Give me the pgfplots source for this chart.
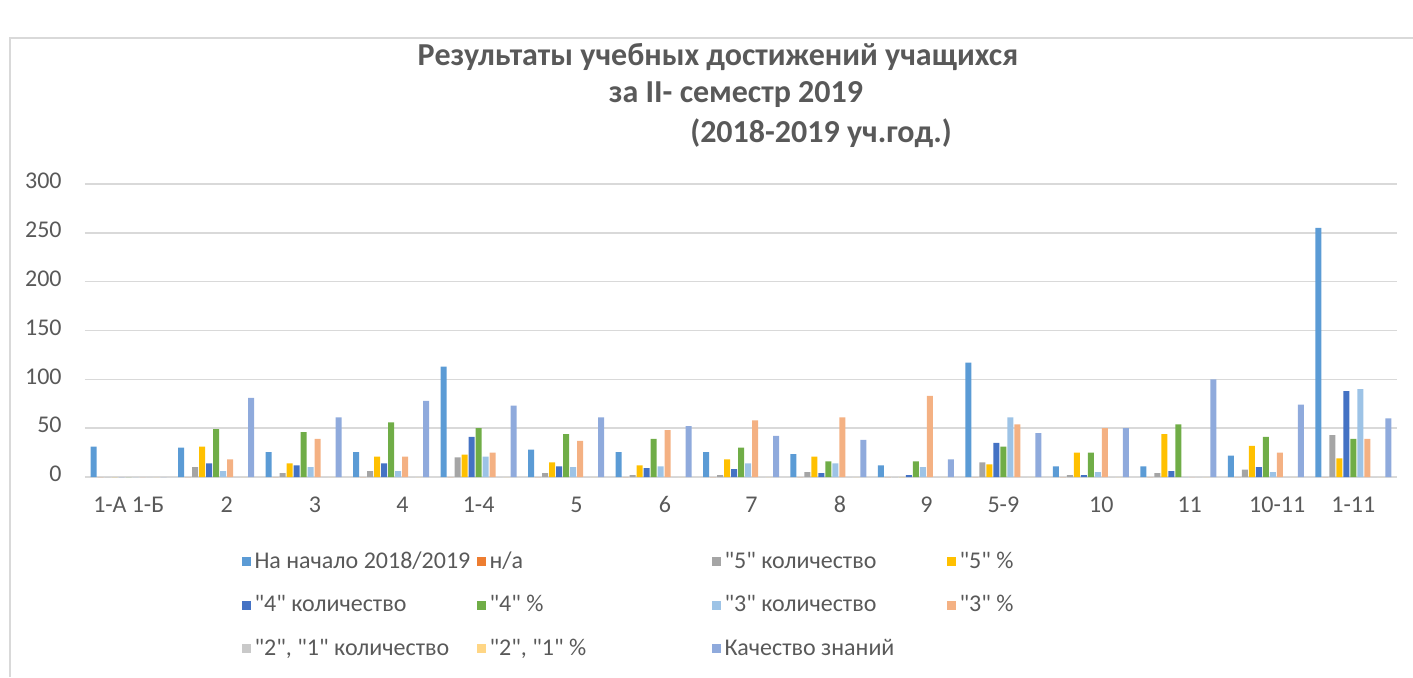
\documentclass[border=0pt]{standalone}
\usepackage{fontspec}
\setmainfont{Carlito}[Ligatures=TeXOff]
\usepackage{pgfplots}
\usepackage{pgfplotstable}
\pgfplotsset{compat=1.18}
\definecolor{c1}{HTML}{5B9BD5}
\definecolor{c2}{HTML}{ED7D31}
\definecolor{c3}{HTML}{A5A5A5}
\definecolor{c4}{HTML}{FFC000}
\definecolor{c5}{HTML}{4472C4}
\definecolor{c6}{HTML}{70AD47}
\definecolor{c7}{HTML}{9DC3E6}
\definecolor{c8}{HTML}{F4B183}
\definecolor{c9}{HTML}{C9C9C9}
\definecolor{c10}{HTML}{FFD685}
\definecolor{c11}{HTML}{8FAADC}
\definecolor{gridc}{HTML}{D9D9D9}
\definecolor{textc}{HTML}{595959}

\pgfplotstableread{
x s1 s2 s3 s4 s5 s6 s7 s8 s9 s10 s11
0 31 0 0 0 0 0 0 0 0 0 0
1 30 0 10 31 14 49 6 18 0 0 81
2 25.5 0 4 14 12 46 10 39 0 0 61
3 25.5 0 6 21 14 56 6 21 0 0 78
4 113 0 20 23 41 50 21 25 0 0 73
5 28 0 4 15 11 44 10 37 0 0 61
6 25.5 0 2 12 9 39 11 48 0 0 52
7 25.5 0 2 18 8 30 14 58 0 0 42
8 23.5 0 5 21 4 16 14 61 0 0 38
9 12 0 0 0 2 16 10 83 0 0 18
10 117 0 15 13 35 31 61 54 0 0 45
11 11 0 2 25 2 25 5 50 0 0 50
12 11 0 4 44 6 54 0 0 0 0 100
13 22 0 7.5 32 10 41 5 25 0 0 74
14 255 0 43 19 88 39 90 39 0 0 60
}\data

\begin{document}
\begin{tikzpicture}
\useasboundingbox (0,0) rectangle (706.5pt,338.5pt);
\draw[color=gridc, line width=1pt] (5pt,0) -- (5pt,319.5pt) -- (706.5pt,319.5pt);
\node[font=\bfseries\fontsize{16}{19}\selectfont, text=textc] at (359pt,310pt) {Результаты учебных достижений учащихся};
\node[font=\bfseries\fontsize{16}{19}\selectfont, text=textc] at (368pt,291pt) {за II- семестр 2019};
\node[font=\bfseries\fontsize{16}{19}\selectfont, text=textc] at (410.5pt,272pt) {(2018-2019 уч.год.)};
\begin{axis}[
  at={(42.5pt,100pt)}, anchor=south west,
  scale only axis, width=656pt, height=146.5pt,
  xmin=-0.5, xmax=14.5, ymin=0, ymax=300,
  ybar=0.5pt, bar width=3pt,
  axis line style={draw=none},
  major tick length=0pt,
  ytick={0,50,...,300},
  ymajorgrids, grid style={color=gridc, line width=0.75pt},
  xtick={0,1.12,2.13,3.13,4,5.12,6.13,7.12,8.13,9.12,10,11.12,12.13,13.13,14},
  xticklabels={1-А 1-Б,2,3,4,1-4,5,6,7,8,9,5-9,10,11,10-11,1-11},
  tick label style={font=\fontsize{12}{14}\selectfont, text=textc},
  /pgf/number format/assume math mode=true,
  yticklabel style={anchor=mid east, inner sep=0pt, xshift=-11.5pt},
  xticklabel style={anchor=mid, inner sep=0pt, yshift=-15.5pt},
  legend columns=4,
  legend image code/.code={\fill[#1] (0pt,-2.25pt) rectangle (4.5pt,2.25pt);},
  legend style={at={(0.119,-0.24)}, anchor=north west, draw=none, fill=none,
    inner sep=0pt, row sep=8pt, font=\fontsize{12}{14}\selectfont, text=textc,
    legend cell align=left},
]
\addplot[fill=c1, draw=none] table[x=x,y=s1]{\data};
\addlegendentry{\makebox[109pt][l]{На начало 2018/2019}}
\addplot[fill=c2, draw=none] table[x=x,y=s2]{\data};
\addlegendentry{\makebox[109pt][l]{н/а}}
\addplot[fill=c3, draw=none] table[x=x,y=s3]{\data};
\addlegendentry{\makebox[109pt][l]{"5" количество}}
\addplot[fill=c4, draw=none] table[x=x,y=s4]{\data};
\addlegendentry{\makebox[109pt][l]{"5" \%}}
\addplot[fill=c5, draw=none] table[x=x,y=s5]{\data};
\addlegendentry{\makebox[109pt][l]{"4" количество}}
\addplot[fill=c6, draw=none] table[x=x,y=s6]{\data};
\addlegendentry{\makebox[109pt][l]{"4" \%}}
\addplot[fill=c7, draw=none] table[x=x,y=s7]{\data};
\addlegendentry{\makebox[109pt][l]{"3" количество}}
\addplot[fill=c8, draw=none] table[x=x,y=s8]{\data};
\addlegendentry{\makebox[109pt][l]{"3" \%}}
\addplot[fill=c9, draw=none] table[x=x,y=s9]{\data};
\addlegendentry{\makebox[109pt][l]{"2", "1" количество}}
\addplot[fill=c10, draw=none] table[x=x,y=s10]{\data};
\addlegendentry{\makebox[109pt][l]{"2", "1" \%}}
\addplot[fill=c11, draw=none] table[x=x,y=s11]{\data};
\addlegendentry{\makebox[109pt][l]{Качество знаний}}
\end{axis}
\end{tikzpicture}
\end{document}
